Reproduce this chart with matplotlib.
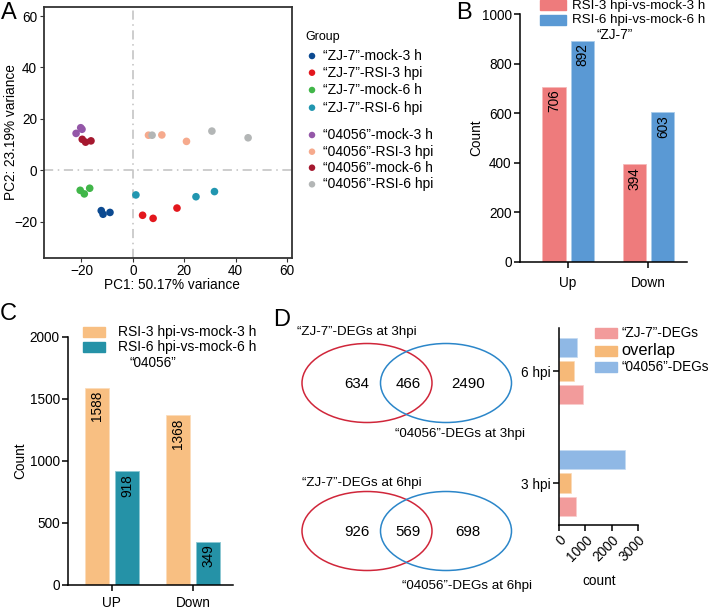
import numpy as np
import matplotlib.pyplot as plt
from matplotlib.patches import Ellipse, Rectangle

plt.rcParams['font.family'] = ['Liberation Sans', 'DejaVu Sans']

# ---- data ----
group_names = ['“ZJ-7”-mock-3 h', '“ZJ-7”-RSI-3 hpi', '“ZJ-7”-mock-6 h', '“ZJ-7”-RSI-6 hpi',
               '“04056”-mock-3 h', '“04056”-RSI-3 hpi', '“04056”-mock-6 h', '“04056”-RSI-6 hpi']
group_colors = ['#0c4a91', '#e3171d', '#41b649', '#2196b0',
                '#9457a8', '#f6aa8d', '#a5182f', '#b3b6b6']
pc1 = [[-12.3, -11.6, -8.9], [3.8, 7.9, 17.2], [-20.5, -18.9, -16.8], [1.2, 24.6, 31.8],
       [-22.1, -20.3, -19.8], [6.1, 11.3, 20.9], [-19.7, -18.4, -16.3], [7.5, 30.8, 44.9]]
pc2 = [[-15.6, -17.0, -16.3], [-17.4, -18.6, -14.6], [-7.7, -9.1, -6.9], [-9.5, -10.2, -8.2],
       [14.4, 16.6, 16.0], [13.7, 13.8, 11.3], [12.1, 11.0, 11.5], [13.7, 15.3, 12.7]]

b_cats = ['Up', 'Down']
zj7_3h = [706, 394]
zj7_6h = [892, 603]

c_cats = ['UP', 'Down']
r04_3h = [1588, 1368]
r04_6h = [918, 349]

venn_3h = [634, 466, 2490]
venn_6h = [926, 569, 698]

d_times = ['3 hpi', '6 hpi']
d_zj7 = [634, 926]
d_overlap = [466, 569]
d_r04 = [2490, 698]

W, H = 711, 609
fig = plt.figure(figsize=(W / 100, H / 100), dpi=100)


def add_ax(x0, y0, x1, y1):
    return fig.add_axes([x0 / W, 1 - y1 / H, (x1 - x0) / W, (y1 - y0) / H])


FS = 9.8   # tick / label size
LFS = 10.0  # legend text size

# ---- A: PCA ----
ax = add_ax(44, 7, 292, 258)
ax.axvline(0, color='#c0c0c0', ls=(0, (6, 3, 1, 3)), lw=1.1, zorder=0)
ax.axhline(0, color='#c0c0c0', ls=(0, (6, 3, 1, 3)), lw=1.1, zorder=0)
for xs, ys, c in zip(pc1, pc2, group_colors):
    ax.scatter(xs, ys, s=30, color=c, edgecolor='none', zorder=3)
ax.set_xlim(-34.6, 62)
ax.set_ylim(-34, 63.5)
ax.set_xticks([-20, 0, 20, 40, 60])
ax.set_yticks([-20, 0, 20, 40, 60])
for s in ax.spines.values():
    s.set_color('#333333')
    s.set_linewidth(1.3)
ax.tick_params(labelsize=FS, length=3, color='#333333', pad=2)
ax.tick_params(axis='x', pad=1.2)
ax.set_xlabel('PC1: 50.17% variance', fontsize=FS)
ax.set_ylabel('PC2: 23.19% variance', fontsize=FS)
ax.xaxis.set_label_coords((172 - 44) / 248, -(278.5 - 258) / 251, transform=ax.transAxes)
ax.yaxis.set_label_coords(-(44 - 18.5) / 248, 0.5, transform=ax.transAxes)


def style_bar_axes(ax):
    for k in ['top', 'right']:
        ax.spines[k].set_visible(False)
    for k in ['left', 'bottom']:
        ax.spines[k].set_linewidth(1.1)
    ax.tick_params(labelsize=FS, length=4, width=1.1, pad=2)


def value_labels(ax, xs, vals):
    for x, v in zip(xs, vals):
        ax.annotate(str(v), (x, v), xytext=(0, -2), textcoords='offset points',
                    rotation=90, ha='center', va='top', fontsize=FS)


# ---- B ----
ax = add_ax(520, 14, 687, 262)
xb = np.arange(len(b_cats))
ax.bar(xb - 0.178, zj7_3h, width=0.29, color='#ee7b7c', edgecolor='#f6b9b9', lw=0.6)
ax.bar(xb + 0.178, zj7_6h, width=0.29, color='#5a99d4', edgecolor='#a9cbea', lw=0.6)
value_labels(ax, xb - 0.178, zj7_3h)
value_labels(ax, xb + 0.178, zj7_6h)
ax.set_xlim(-0.6, 1.48)
ax.set_ylim(0, 1000)
ax.set_yticks([0, 200, 400, 600, 800, 1000])
ax.set_xticks(xb)
ax.set_xticklabels(b_cats)
style_bar_axes(ax)
ax.tick_params(axis='x', pad=6)
ax.set_ylabel('Count', fontsize=FS)
ax.yaxis.set_label_coords(-(520 - 483) / 167, 0.5, transform=ax.transAxes)

# ---- C ----
ax = add_ax(68, 337, 233, 585)
xc = np.arange(len(c_cats))
ax.bar(xc - 0.185, r04_3h, width=0.3, color='#f8bf82', edgecolor='#fbdcbb', lw=0.6)
ax.bar(xc + 0.185, r04_6h, width=0.29, color='#2592a7', edgecolor='#8cc7d2', lw=0.6)
value_labels(ax, xc - 0.185, r04_3h)
value_labels(ax, xc + 0.185, r04_6h)
ax.set_xlim(-0.54, 1.49)
ax.set_ylim(0, 2000)
ax.set_yticks([0, 500, 1000, 1500, 2000])
ax.set_xticks(xc)
ax.set_xticklabels(c_cats)
style_bar_axes(ax)
ax.tick_params(axis='x', pad=4)
ax.set_ylabel('Count', fontsize=FS)
ax.yaxis.set_label_coords(-(68 - 27) / 165, 0.5, transform=ax.transAxes)

# ---- D bars ----
ax = add_ax(559, 328, 638, 525)
yd = np.arange(len(d_times))
ax.barh(yd - 0.214, d_zj7, height=0.17, color='#f29b9b', edgecolor='#f8cccc', lw=0.5)
ax.barh(yd, d_overlap, height=0.17, color='#f6b978', edgecolor='#fadab8', lw=0.5)
ax.barh(yd + 0.214, d_r04, height=0.17, color='#8fb8e5', edgecolor='#c4daf2', lw=0.5)
ax.set_ylim(-0.375, 1.384)
ax.set_xlim(0, 3000)
ax.set_xticks([0, 1000, 2000, 3000])
ax.set_xticklabels(['0', '1000', '2000', '3000'], rotation=45, ha='right', rotation_mode='anchor')
ax.set_yticks(yd)
ax.set_yticklabels(d_times)
style_bar_axes(ax)
ax.set_xlabel('count', fontsize=FS)
ax.xaxis.set_label_coords((599 - 559) / 79, -(574 - 525) / 197, transform=ax.transAxes)

# ---- overlay: letters, legends, venn ----
ov = fig.add_axes([0, 0, 1, 1])
ov.set_xlim(0, W)
ov.set_ylim(H, 0)
ov.axis('off')
ov.patch.set_alpha(0)

for t, x, y in [('A', 9, 13), ('B', 464, 13), ('C', 8, 314), ('D', 282, 320)]:
    ov.text(x, y, t, fontsize=17, ha='center', va='center')

# group legend
ov.text(305, 37, 'Group', fontsize=FS - 0.8, va='center')
leg_y = [56, 72.7, 90, 107.7, 135, 151.7, 167.7, 184.3]
for name, c, y in zip(group_names, group_colors, leg_y):
    ov.scatter([312], [y], s=22, color=c, edgecolor='none')
    ov.text(323, y, name, fontsize=LFS, va='center')

# B legend
for y, c, lab in [(5, '#ee7b7c', 'RSI-3 hpi-vs-mock-3 h'), (20, '#5a99d4', 'RSI-6 hpi-vs-mock-6 h')]:
    ov.add_patch(Rectangle((540, y - 5), 26, 10, color=c))
    ov.text(572, y + 0.5, lab, fontsize=9.6, va='center')
ov.text(615, 35, '“ZJ-7”', fontsize=FS, ha='center', va='center')

# C legend
for y, c, lab in [(332, '#f8bf82', 'RSI-3 hpi-vs-mock-3 h'), (347, '#2592a7', 'RSI-6 hpi-vs-mock-6 h')]:
    ov.add_patch(Rectangle((83, y - 5), 22, 10, color=c))
    ov.text(118, y, lab, fontsize=LFS, va='center')
ov.text(153, 363, '“04056”', fontsize=FS, ha='center', va='center')

# D legend
for y, c, lab, fs in [(333.3, '#f29b9b', '“ZJ-7”-DEGs', FS), (350.7, '#f6b978', 'overlap', FS + 2),
                      (367.3, '#8fb8e5', '“04056”-DEGs', FS)]:
    ov.add_patch(Rectangle((595, y - 5), 22, 10, color=c))
    ov.text(621, y, lab, fontsize=fs, va='center')

# venn diagrams
for vals, cy, t1, t1x, t1y, t2, t2x, t2y in [
        (venn_3h, 383, '“ZJ-7”-DEGs at 3hpi', 297, 332, '“04056”-DEGs at 3hpi', 395, 434),
        (venn_6h, 531, '“ZJ-7”-DEGs at 6hpi', 302, 483, '“04056”-DEGs at 6hpi', 402, 586)]:
    ov.add_patch(Ellipse((367, cy), 130, 79, fill=False, ec='#d0263a', lw=1.1))
    ov.add_patch(Ellipse((446, cy), 131, 79, fill=False, ec='#2b86c9', lw=1.1))
    for v, x in zip(vals, [357, 408, 468]):
        ov.text(x, cy + 1, str(v), fontsize=FS + 1, ha='center', va='center')
    ov.text(t1x, t1y, t1, fontsize=FS - 0.2, va='center')
    ov.text(t2x, t2y, t2, fontsize=FS - 0.2, va='center')

fig.savefig('out.png', dpi=100)
